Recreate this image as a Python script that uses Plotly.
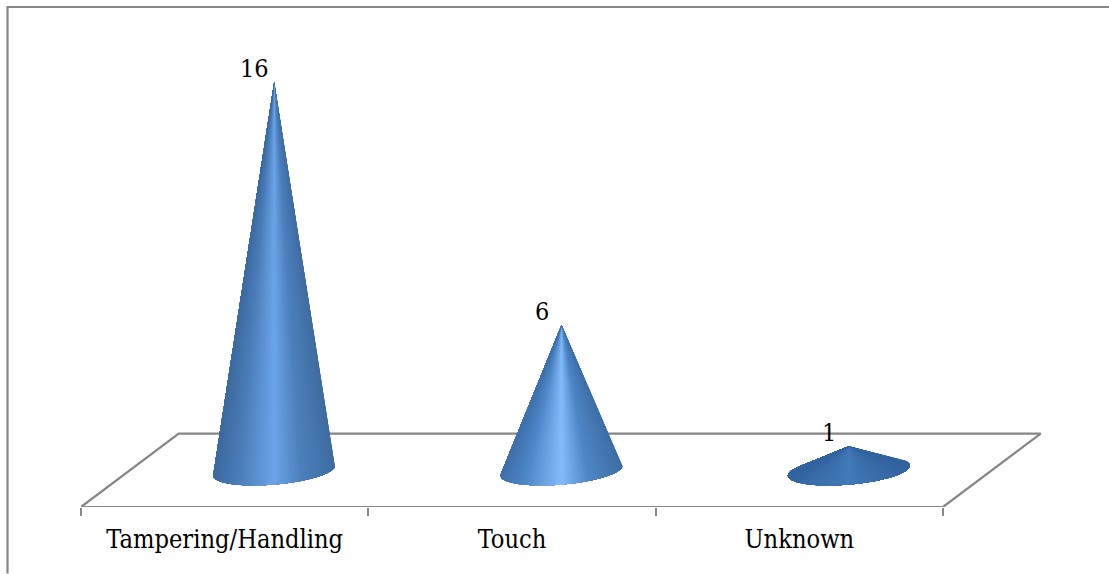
import numpy as np
import plotly.graph_objects as go

# Chart data
categories = ["Tampering/Handling", "Touch", "Unknown"]
values = [16, 6, 1]

# Colour stops across each cone, left edge to right edge
shade_positions = [0.0, 0.2, 0.5, 0.72, 1.0]
cone_shades = [
    ["#3d6b9f", "#4a7cb8", "#6ba4e8", "#4d80bd", "#3f6da1"],
    ["#3f70ab", "#4f87c8", "#84bcf9", "#4f86c6", "#3f6fa8"],
    ["#3364a0", "#3a6eab", "#4279b8", "#3b6fac", "#3364a0"],
]

WIDTH, HEIGHT = 1109, 574
M_L, M_R, M_T, M_B = 81, 64, 20, 66.5
X_RANGE = [-0.5, 2.855]
Y_RANGE = [-1.5, 18.56]
FLOOR_END = 2.5
GREY = "#868686"
FONT = "DejaVu Serif Condensed, DejaVu Serif, serif"

# Floor depth in axis units, and the cone base ellipse axes
DEPTH_X, DEPTH_Y = 0.34, 3.02
BASE_U = np.array([0.2123, 0.206])
BASE_V = np.array([0.0, -0.576])
N_WEDGES = 120


def hex_rgb(c):
    return np.array([int(c[i:i + 2], 16) for i in (1, 3, 5)], dtype=float)


def shade(stops, s):
    rgb = [hex_rgb(c) for c in stops]
    channels = [np.interp(s, shade_positions, [c[k] for c in rgb]) for k in range(3)]
    return "rgb({:.0f},{:.0f},{:.0f})".format(*channels)


fig = go.Figure()

# Floor outline, front edge included
fig.add_trace(go.Scatter(
    x=[X_RANGE[0], X_RANGE[0] + DEPTH_X, FLOOR_END + DEPTH_X, FLOOR_END, X_RANGE[0]],
    y=[Y_RANGE[0], Y_RANGE[0] + DEPTH_Y, Y_RANGE[0] + DEPTH_Y, Y_RANGE[0], Y_RANGE[0]],
    mode="lines", line=dict(color=GREY, width=2.2),
    hoverinfo="skip", showlegend=False,
))

# Cones: the visible part of the base rim is split into wedges meeting at the apex,
# each wedge painted over the previous one so no seams show
for i, (name, value) in enumerate(zip(categories, values)):
    cx = i + 0.1725
    centre = np.array([cx, 0.0])
    apex = np.array([cx, float(value)])

    # Tangent points from the apex to the base ellipse
    alpha, beta = np.linalg.solve(np.column_stack([BASE_U, BASE_V]), apex - centre)
    r = np.hypot(alpha, beta)
    phi = np.arctan2(beta, alpha)
    gamma = np.arccos(1 / r)
    t = np.linspace(phi + gamma, phi + 2 * np.pi - gamma, N_WEDGES + 1)
    rim = centre + np.outer(np.cos(t), BASE_U) + np.outer(np.sin(t), BASE_V)

    x_min, x_max = rim[:, 0].min(), rim[:, 0].max()
    for k in range(N_WEDGES):
        part = rim[k:]
        mid = (rim[k, 0] + rim[k + 1, 0]) / 2
        s = (mid - x_min) / (x_max - x_min)
        fig.add_trace(go.Scatter(
            x=[apex[0], *part[:, 0], apex[0]],
            y=[apex[1], *part[:, 1], apex[1]],
            mode="lines", line=dict(width=0), fill="toself",
            fillcolor=shade(cone_shades[i], s),
            hoverinfo="skip", showlegend=False,
        ))

    fig.add_annotation(
        x=cx, y=value, text=str(value), showarrow=False,
        xshift=-20, yshift=13.5, font=dict(family=FONT, size=25, color="#000000"),
    )

# Outer frame: left and top edges only
to_px = lambda px: (px - M_L) / (WIDTH - M_L - M_R)
to_py = lambda py: 1 - (py - M_T) / (HEIGHT - M_T - M_B)
fig.add_shape(
    type="path", xref="paper", yref="paper",
    path=f"M {to_px(7.5)} {to_py(574)} L {to_px(7.5)} {to_py(7)} L {to_px(1109)} {to_py(7)}",
    line=dict(color=GREY, width=2.2),
)

fig.update_layout(
    width=WIDTH, height=HEIGHT,
    margin=dict(l=M_L, r=M_R, t=M_T, b=M_B),
    paper_bgcolor="#ffffff", plot_bgcolor="#ffffff",
    showlegend=False,
    xaxis=dict(
        range=X_RANGE, tickvals=list(range(len(categories))), ticktext=categories,
        showgrid=False, zeroline=False, showline=False,
        ticks="", ticklabelstandoff=15,
        tickfont=dict(family=FONT, size=25.2, color="#000000"),
        minor=dict(tickmode="array", tickvals=[-0.5, 0.5, 1.5, 2.5], ticks="outside",
                   ticklen=8, tickwidth=2, tickcolor=GREY, showgrid=False),
    ),
    yaxis=dict(range=Y_RANGE, visible=False),
)

fig.write_html("out.html", config=dict(displayModeBar=False))
